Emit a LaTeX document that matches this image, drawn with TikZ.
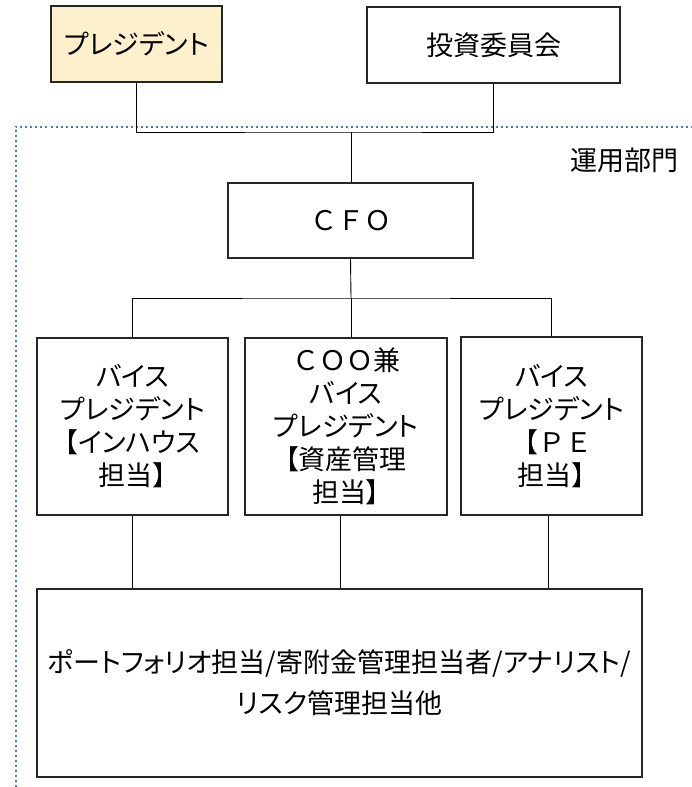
\documentclass[tikz,border=0pt]{standalone}
\usepackage{fontspec}
\setmainfont{Noto Sans CJK JP}[RawFeature={+palt}]
\newfontfamily\fullw{Noto Sans CJK JP}
\usepackage{tikz}
\usepackage{xcolor}

\definecolor{deptblue}{HTML}{4A7EBB}
\definecolor{presfill}{HTML}{FDF0CC}
\newcommand\jpfont{\fontsize{27}{33}\selectfont}

\begin{document}
\begin{tikzpicture}[
            x = 1pt, y = -1pt, % one unit per pixel, top down
            box/.style = {draw=black!85, line width=1.2pt, inner sep=0pt, align=center, font=\jpfont},
            link/.style = {draw=black, line width=0.9pt},
            dept/.style = {draw=deptblue, line width=2pt, dash pattern=on 2pt off 3pt}
        ]
\useasboundingbox (0,0) rectangle (691,787);

% unit frame
\draw[dept] (15.5,787) -- (15.5,127) -- (691,127);
\node[font=\jpfont] (unit) at (624,160) {運用部門};

\node[box, fill=presfill, minimum width=171, minimum height=76] (pres) at (136.5,44) {プレジデント};
\node[box, minimum width=253, minimum height=76] (inv) at (493.5,45) {投資委員会};
\node[box, minimum width=245, minimum height=75] (cfo) at (350.5,220.5) {{\fullw ＣＦＯ}};

\node[box, minimum width=191, minimum height=177] (vpL) at (132.5,426.5) {バイス\\プレジデント\\【インハウス\\担当】};
\node[box, minimum width=202, minimum height=177] (vpM) at (346,426.5) {{\fullw ＣＯＯ}兼\\バイス\\プレジデント\\【資産管理\\担当】};
\node[box, minimum width=181, minimum height=178] (vpR) at (551.5,426) {バイス\\プレジデント\\{\fullw 【ＰＥ}\\担当】};

\node[box, minimum width=605, minimum height=188] (staff) at (339.5,683) {ポートフォリオ担当/寄附金管理担当者/アナリスト/\\[8pt]リスク管理担当他};

\coordinate (j1) at (351,132);
\coordinate (j2) at (351,298);

 \path[link] (pres.south) |- (j1) -| (inv.south);
 \path[link] (j1) -- (j1 |- cfo.north);
 \path[link] (cfo.south) -- (j2);
 \path[link] (vpL.north) |- (j2) -| (vpR.north);
 \path[link] (j2) -- (j2 |- vpM.north);

 \path[link] (vpL.south) -- (vpL.south |- staff.north);
 \path[link] ([xshift=-6pt]vpM.south) -- ([xshift=-6pt]vpM.south |- staff.north);
 \path[link] ([xshift=-3.5pt]vpR.south) -- ([xshift=-3.5pt]vpR.south |- staff.north);
\end{tikzpicture}
\end{document}
